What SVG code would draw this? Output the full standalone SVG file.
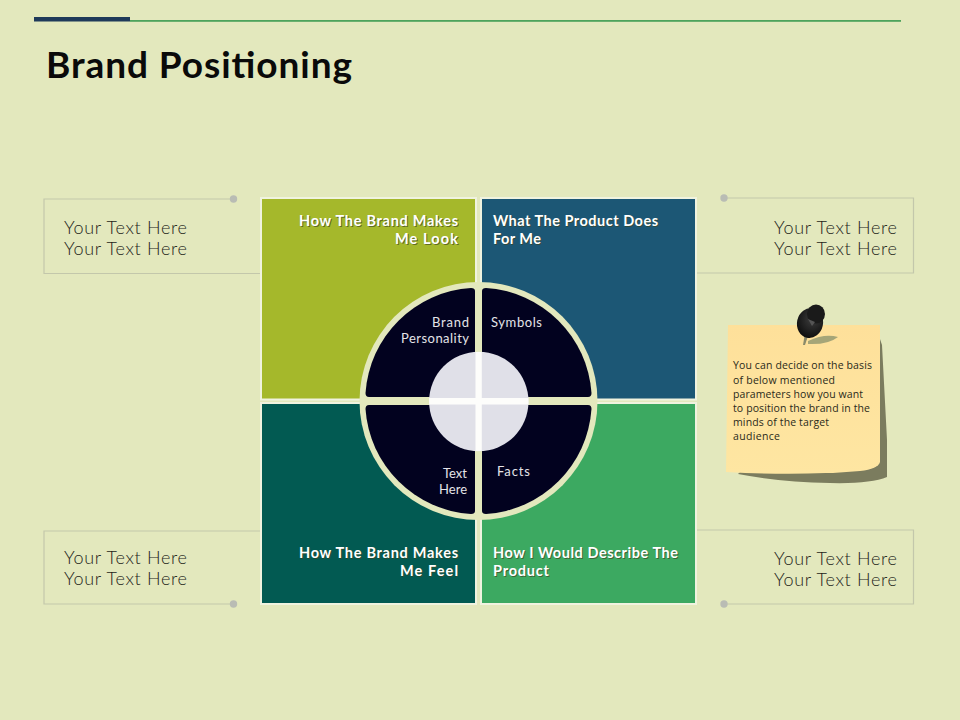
<svg xmlns="http://www.w3.org/2000/svg" width="960" height="720" viewBox="0 0 960 720">
<defs>
<style>
.yt{font-family:"Lato","Liberation Sans",sans-serif;font-size:18px;font-weight:300;fill:#23251a}
.frame{fill:none;stroke:#c3c7ab;stroke-width:1.2}
.dot{fill:#b9bcb4}
.sq{stroke:#f0f3df;stroke-width:2}
.head{font-family:"Lato","Liberation Sans",sans-serif;font-size:14.5px;font-weight:700;fill:#fff}
.heads{font-family:"Lato","Liberation Sans",sans-serif;font-size:14.5px;font-weight:700;fill:#3c4420;opacity:.65}
.q{fill:#02021f}
.ql{font-family:"Lato","Liberation Sans",sans-serif;font-size:13px;font-weight:400;fill:#e4e4e8}
.note{font-family:"Open Sans","Liberation Sans",sans-serif;font-size:10.5px;fill:#2a2a1a}
</style>
<linearGradient id="noteg" x1="0" y1="0" x2="0" y2="1"><stop offset="0" stop-color="#fee09a"/><stop offset="1" stop-color="#fee6a2"/></linearGradient>
<radialGradient id="ping" cx=".55" cy=".35" r=".7"><stop offset="0" stop-color="#3d3d3d"/><stop offset="1" stop-color="#0b0b0b"/></radialGradient>
</defs>
<rect width="960" height="720" fill="#e3e8bd"/>
<g id="header">
<rect x="34" y="17" width="96" height="4.5" fill="#1f3a5a"/>
<rect x="130" y="20" width="771" height="1.8" fill="#4ea35c"/>
<text x="46" y="78" font-family="Lato,'Liberation Sans',sans-serif" font-size="37" font-weight="700" fill="#0a0a0a" textLength="306" lengthAdjust="spacing">Brand Positioning</text>
</g>
<g id="connectors">
<path class="frame" d="M233,199H44V273.500H261"/>
<path class="frame" d="M233,604H44V531H261"/>
<path class="frame" d="M724,198H913.500V273H696"/>
<path class="frame" d="M724,604H913.500V530H696"/>
<circle class="dot" cx="233.500" cy="199" r="3.700"/>
<circle class="dot" cx="233.500" cy="604" r="3.700"/>
<circle class="dot" cx="724" cy="198" r="3.700"/>
<circle class="dot" cx="724" cy="604" r="3.700"/>
</g>
<g id="text-top-left"><text class="yt" x="64" y="233.500" textLength="123">Your Text Here</text><text class="yt" x="64" y="255" textLength="123">Your Text Here</text></g>
<g id="text-bottom-left"><text class="yt" x="64" y="563.500" textLength="123">Your Text Here</text><text class="yt" x="64" y="585" textLength="123">Your Text Here</text></g>
<g id="text-top-right"><text class="yt" x="774" y="233.500" textLength="123">Your Text Here</text><text class="yt" x="774" y="255" textLength="123">Your Text Here</text></g>
<g id="text-bottom-right"><text class="yt" x="774" y="564.500" textLength="123">Your Text Here</text><text class="yt" x="774" y="586" textLength="123">Your Text Here</text></g>
<g id="sq-top-left">
<rect class="sq" x="261" y="198" width="215" height="201.500" fill="#a5b82b"/>
<text class="heads" x="300" y="226.500" textLength="159">How The Brand Makes</text><text class="heads" x="396" y="244.500" textLength="63">Me Look</text>
<text class="head" x="299" y="225.500" textLength="159">How The Brand Makes</text><text class="head" x="395" y="243.500" textLength="63">Me Look</text>
</g>
<g id="sq-top-right">
<rect class="sq" x="481" y="198" width="215" height="201.500" fill="#1c5775"/>
<text class="heads" x="494" y="226.500" textLength="165">What The Product Does</text><text class="heads" x="494" y="244.500" textLength="48">For Me</text>
<text class="head" x="493" y="225.500" textLength="165">What The Product Does</text><text class="head" x="493" y="243.500" textLength="48">For Me</text>
</g>
<g id="sq-bottom-left">
<rect class="sq" x="261" y="403" width="215" height="201" fill="#025a52"/>
<text class="heads" x="300" y="558.500" textLength="159">How The Brand Makes</text><text class="heads" x="401" y="576.500" textLength="57">Me Feel</text>
<text class="head" x="299" y="557.500" textLength="159">How The Brand Makes</text><text class="head" x="400" y="575.500" textLength="58">Me Feel</text>
</g>
<g id="sq-bottom-right">
<rect class="sq" x="481" y="403" width="215" height="201" fill="#3ca961"/>
<text class="heads" x="494" y="558.500" textLength="185">How I Would Describe The</text><text class="heads" x="494" y="576.500" textLength="56">Product</text>
<text class="head" x="493" y="557.500" textLength="185">How I Would Describe The</text><text class="head" x="493" y="575.500" textLength="56">Product</text>
</g>
<g id="wheel">
<circle cx="478.500" cy="401" r="119" fill="#e3e8bd"/>
<path class="q" d="M475,291V397H369Q365.500,397 365.500,393A113,113 0 0 1 471,288Q475,288 475,291Z"/>
<path class="q" d="M482,291V397H588Q591.500,397 591.500,393A113,113 0 0 0 486,288Q482,288 482,291Z"/>
<path class="q" d="M475,511V405H369Q365.500,405 365.500,409A113,113 0 0 0 471,514Q475,514 475,511Z"/>
<path class="q" d="M482,511V405H588Q591.500,405 591.500,409A113,113 0 0 1 486,514Q482,514 482,511Z"/>
<circle cx="478.800" cy="401.500" r="49.700" fill="#e0e0e8"/>
<path d="M475.500,352H481.800V398H528.500V404.500H481.800V451H475.500V404.500H429V398H475.500Z" fill="#fdfdfb"/>
<text class="ql" x="469" y="327" text-anchor="end" textLength="37">Brand</text>
<text class="ql" x="469" y="343" text-anchor="end" textLength="68">Personality</text>
<text class="ql" x="491" y="327" textLength="51">Symbols</text>
<text class="ql" x="467" y="478" text-anchor="end">Text</text>
<text class="ql" x="467" y="494" text-anchor="end">Here</text>
<text class="ql" x="497" y="476" textLength="33">Facts</text>
</g>
<g id="sticky-note">
<path d="M878,333L882,345L887,440V477Q870,484 830,483Q780,482 738,474Z" fill="#7b7c5e"/>
<path d="M728,325H880V462Q878,469 860,471Q800,476 726,472Z" fill="url(#noteg)"/>
<text class="note"><tspan x="733" y="369" textLength="139">You can decide on the basis</tspan><tspan x="733" y="383.500" textLength="102">of below mentioned</tspan><tspan x="733" y="397.500" textLength="130">parameters how you want</tspan><tspan x="733" y="411.500" textLength="137">to position the brand in the</tspan><tspan x="733" y="426" textLength="96">minds of the target</tspan><tspan x="733" y="440" textLength="47">audience</tspan></text>
</g>
<g id="pin">
<path d="M808,341Q825,333 838,337Q828,345 808,344Z" fill="#a5a578"/>
<path d="M805,333L809,333L805,345L803,345Z" fill="#8a8a6a"/>
<ellipse cx="810" cy="323" rx="13" ry="15" fill="url(#ping)" transform="rotate(12 810 323)"/>
<ellipse cx="816" cy="314" rx="9" ry="9.500" fill="#1a1a1a"/>
<path d="M808,319L815,322L812,326Z" fill="#555"/>
</g>
</svg>
